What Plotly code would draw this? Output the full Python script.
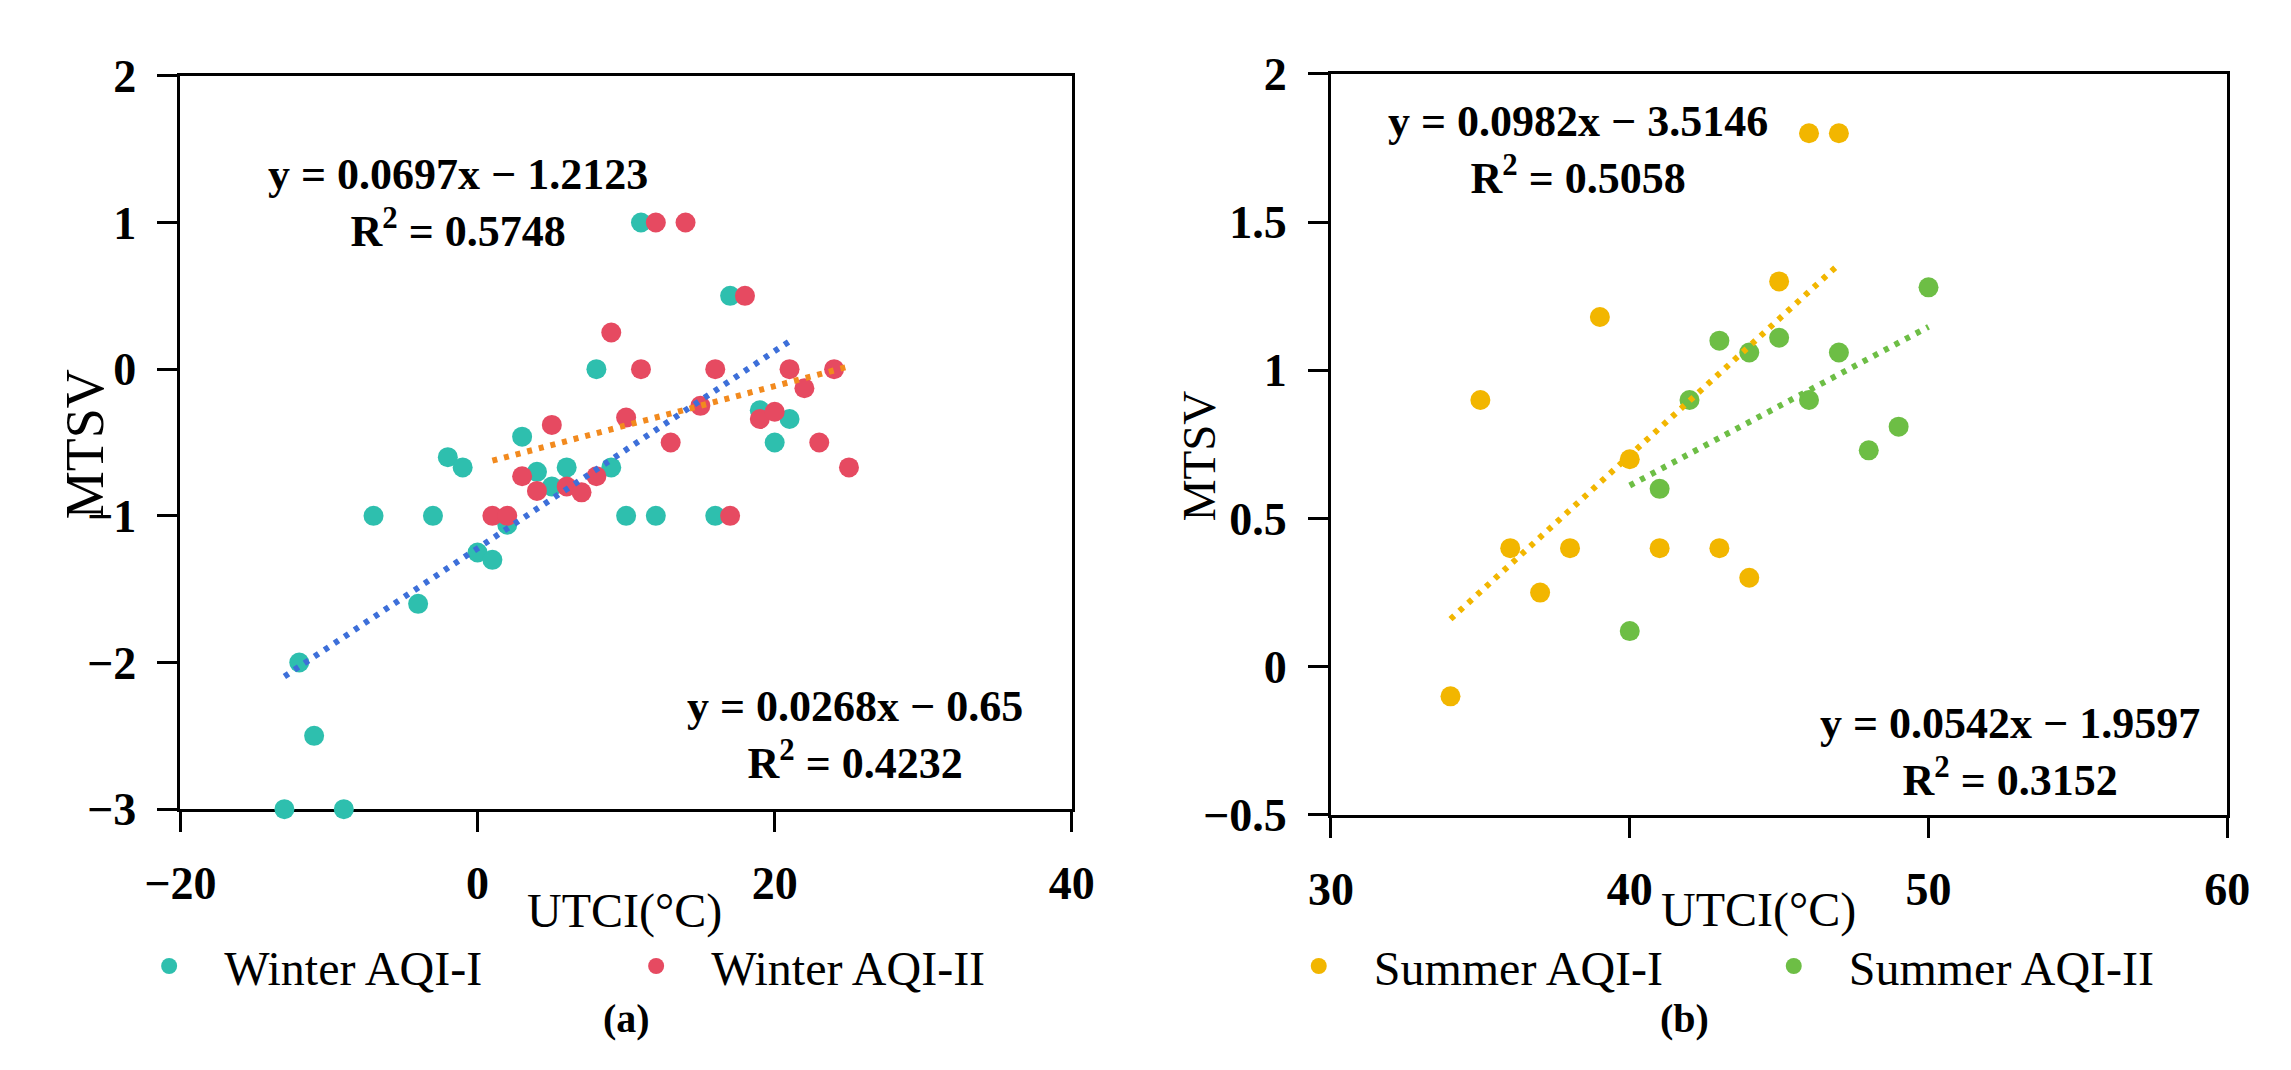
import numpy as np
import plotly.graph_objects as go

# (a) winter data
winter_i_utci = [11, 17, 8, 3, -2, -1, 4, 6, 9, 5, -7, -3, 2, 0, 1, -4, -12, -11, -13, -9,
                 10, 12, 16, 20, 19, 21]
winter_i_mtsv = [1, 0.5, 0, -0.46, -0.6, -0.67, -0.7, -0.67, -0.67, -0.8, -1, -1, -1.06, -1.25,
                 -1.3, -1.6, -2, -2.5, -3, -3, -1, -1, -1, -0.5, -0.28, -0.34]
winter_ii_utci = [12, 14, 18, 9, 11, 16, 15, 10, 5, 13, 3, 4, 6, 7, 8, 1, 2, 17, 19, 20,
                  21, 22, 23, 24, 25]
winter_ii_mtsv = [1, 1, 0.5, 0.25, 0, 0, -0.25, -0.33, -0.38, -0.5, -0.73, -0.83, -0.8, -0.84,
                  -0.73, -1, -1, -1, -0.34, -0.29, 0, -0.13, -0.5, 0, -0.67]

# (b) summer data
summer_i_utci = [34, 35, 36, 37, 38, 39, 40, 41, 43, 44, 45, 46, 47]
summer_i_mtsv = [-0.1, 0.9, 0.4, 0.25, 0.4, 1.18, 0.7, 0.4, 0.4, 0.3, 1.3, 1.8, 1.8]
summer_ii_utci = [40, 41, 42, 43, 44, 45, 46, 47, 48, 49, 50]
summer_ii_mtsv = [0.12, 0.6, 0.9, 1.1, 1.06, 1.11, 0.9, 1.06, 0.73, 0.81, 1.28]

# regression labels as printed on the chart
eq_winter_i = "y = 0.0697x − 1.2123<br>R<sup>2</sup> = 0.5748"
eq_winter_ii = "y = 0.0268x − 0.65<br>R<sup>2</sup> = 0.4232"
eq_summer_i = "y = 0.0982x − 3.5146<br>R<sup>2</sup> = 0.5058"
eq_summer_ii = "y = 0.0542x − 1.9597<br>R<sup>2</sup> = 0.3152"

SERIF = "Liberation Serif, Times New Roman, serif"
W, H = 2291, 1070


def trend(x, y):
    k, b = np.polyfit(x, y, 1)
    xs = np.array([min(x), max(x)])
    return xs, k * xs + b


def dots(x, y, color, name, xa, ya, leg):
    return go.Scatter(x=x, y=y, mode="markers", name=name, xaxis=xa, yaxis=ya, legend=leg,
                      cliponaxis=False, marker=dict(size=20, color=color))


def dotted(x, y, color, xa, ya):
    tx, ty = trend(x, y)
    return go.Scatter(x=tx, y=ty, mode="lines", xaxis=xa, yaxis=ya, showlegend=False,
                      line=dict(color=color, width=6, dash="5px,7px"))


fig = go.Figure()
fig.add_trace(dots(winter_i_utci, winter_i_mtsv, "#2EBFAE", "Winter AQI-I", "x", "y", "legend"))
fig.add_trace(dots(winter_ii_utci, winter_ii_mtsv, "#E64A61", "Winter AQI-II", "x", "y", "legend"))
fig.add_trace(dotted(winter_i_utci, winter_i_mtsv, "#3D6FD9", "x", "y"))
fig.add_trace(dotted(winter_ii_utci, winter_ii_mtsv, "#F28A1E", "x", "y"))

fig.add_trace(dots(summer_i_utci, summer_i_mtsv, "#F2B600", "Summer AQI-I", "x2", "y2", "legend2"))
fig.add_trace(dots(summer_ii_utci, summer_ii_mtsv, "#6DBE45", "Summer AQI-II", "x2", "y2", "legend2"))
fig.add_trace(dotted(summer_i_utci, summer_i_mtsv, "#F2B600", "x2", "y2"))
fig.add_trace(dotted(summer_ii_utci, summer_ii_mtsv, "#6DBE45", "x2", "y2"))

axis_style = dict(showline=True, mirror=True, linecolor="black", linewidth=3, showgrid=False,
                  zeroline=False, ticks="outside", ticklen=20, tickwidth=3, tickcolor="black",
                  layer="below traces", ticklabelstandoff=12,
                  tickfont=dict(family=SERIF, size=46, color="black", weight="bold"))

fig.update_layout(
    width=W, height=H, margin=dict(l=0, r=0, t=0, b=0),
    paper_bgcolor="white", plot_bgcolor="white",
    font=dict(family=SERIF, color="black"),
    xaxis=dict(domain=[140 / W, 1055 / W], range=[-20, 40], dtick=20, anchor="y", **axis_style),
    yaxis=dict(domain=[1 - 815 / H, 1 - 45 / H], range=[-3, 2], dtick=1, anchor="x", **axis_style),
    xaxis2=dict(domain=[1321 / W, 2241 / W], range=[30, 60], dtick=10, anchor="y2", **axis_style),
    yaxis2=dict(domain=[1 - 821 / H, 1 - 43 / H], range=[-0.5, 2], dtick=0.5, anchor="x2",
                **axis_style),
    legend=dict(orientation="h", x=72 / W, xanchor="left", y=1 - 980 / H, yanchor="middle",
                font=dict(family=SERIF, size=48), itemwidth=100, entrywidth=372,
                bgcolor="rgba(0,0,0,0)"),
    legend2=dict(orientation="h", x=1252 / W, xanchor="left", y=1 - 980 / H, yanchor="middle",
                 font=dict(family=SERIF, size=48), itemwidth=100, entrywidth=360,
                 bgcolor="rgba(0,0,0,0)"),
)

# paper-positioned text: equations, axis titles, panel letters
texts = [
    (eq_winter_i, 425, 178, 44, "bold", 0),
    (eq_winter_ii, 832, 737, 44, "bold", 0),
    (eq_summer_i, 1575, 123, 44, "bold", 0),
    (eq_summer_ii, 2018, 755, 44, "bold", 0),
    ("UTCI(°C)", 596, 922, 48, "normal", 0),
    ("UTCI(°C)", 1760, 921, 48, "normal", 0),
    ("MTSV", 42, 432, 54, "normal", -90),
    ("MTSV", 1185, 444, 47, "normal", -90),
    ("(a)", 598, 1035, 40, "bold", 0),
    ("(b)", 1684, 1035, 40, "bold", 0),
]
for t, px, py, size, weight, angle in texts:
    fig.add_annotation(text=t, x=px / W, y=1 - py / H, xref="paper", yref="paper",
                       showarrow=False, align="center", xanchor="center", yanchor="middle",
                       textangle=angle,
                       font=dict(family=SERIF, size=size, color="black", weight=weight))

fig.write_html("out.html")
